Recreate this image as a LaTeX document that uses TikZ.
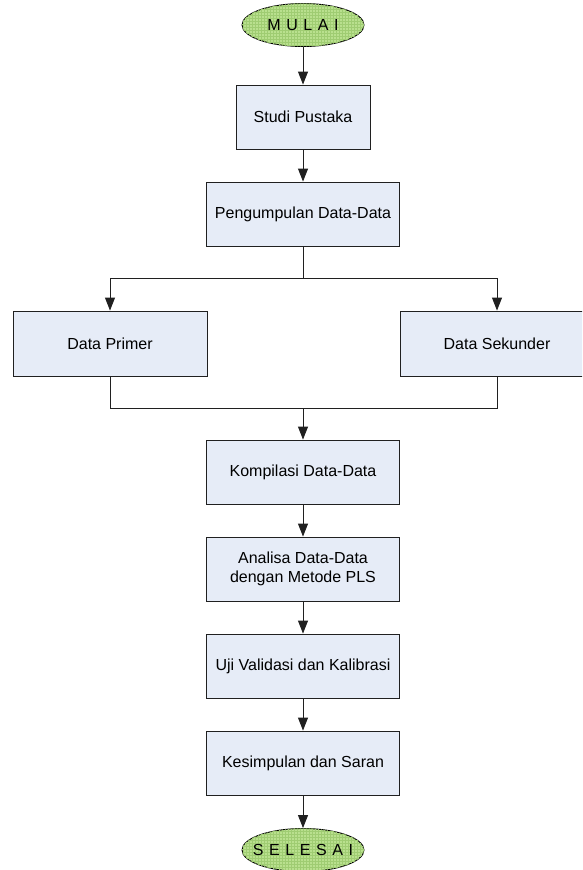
\documentclass[tikz,border=0pt]{standalone}
\usepackage{fontspec}
\setmainfont{Liberation Sans}
\usetikzlibrary{shapes.geometric,arrows.meta,patterns}
\definecolor{boxfill}{HTML}{E6ECF7}
\definecolor{ovalfill}{HTML}{B9E08E}
\definecolor{ovalgrid}{HTML}{9FCC72}
\definecolor{linec}{HTML}{202020}
\newcommand{\lgap}{\hspace{5.6pt}}
\tikzset{
  x=1pt, y=-1pt,
  stepbox/.style={draw=linec, line width=0.9pt, fill=boxfill, rectangle, minimum height=64pt, align=center, font=\fontsize{16}{19.5}\selectfont, inner sep=0pt},
  term/.style={draw=black, line width=0.9pt, ellipse, fill=ovalfill, minimum width=122pt, minimum height=43pt, inner sep=0pt, font=\fontsize{16}{19.5}\selectfont,
    postaction={pattern=grid, pattern color=ovalgrid}},
  conn/.style={draw=linec, line width=0.9pt},
  arr/.style={conn, -{Triangle[length=13pt,width=10pt]}},
}
\begin{document}
\begin{tikzpicture}
\useasboundingbox (0,0) rectangle (582,870);
\clip (0,0) rectangle (582,870);
\node[term] (start) at (303,25) {\makebox[0pt]{M\lgap U\lgap L\lgap A\lgap I}};
\node[stepbox, minimum width=134pt] (studi) at (303,117) {Studi Pustaka};
\node[stepbox, minimum width=193pt] (kumpul) at (303,214) {Pengumpulan Data-Data};
\node[stepbox, minimum width=194pt, minimum height=65pt] (primer) at (110,343.5) {Data Primer};
\node[stepbox, minimum width=194pt, minimum height=65pt] (sekunder) at (497,343.5) {Data Sekunder};
\node[stepbox, minimum width=193pt] (kompil) at (303,472) {Kompilasi Data-Data};
\node[stepbox, minimum width=193pt] (analisa) at (303,569) {Analisa Data-Data\\dengan Metode PLS};
\node[stepbox, minimum width=193pt] (uji) at (303,666) {Uji Validasi dan Kalibrasi};
\node[stepbox, minimum width=193pt] (simpul) at (303,763) {Kesimpulan dan Saran};
\node[term] (selesai) at (303,850) {\makebox[0pt]{S\lgap E\lgap L\lgap E\lgap S\lgap A\lgap I}};
\coordinate (split) at (303,278);
\coordinate (join) at (303,408);
\draw[arr] (start) -- (studi);
\draw[arr] (studi) -- (kumpul);
\draw[conn] (kumpul.south) -- (split);
\draw[arr] (split) -| (primer.north);
\draw[arr] (split) -| (sekunder.north);
\draw[conn] (primer.south) |- (join);
\draw[conn] (sekunder.south) |- (join);
\draw[arr] (join) -- (kompil.north);
\draw[arr] (kompil) -- (analisa);
\draw[arr] (analisa) -- (uji);
\draw[arr] (uji) -- (simpul);
\draw[arr] (simpul) -- (selesai);
\end{tikzpicture}
\end{document}
